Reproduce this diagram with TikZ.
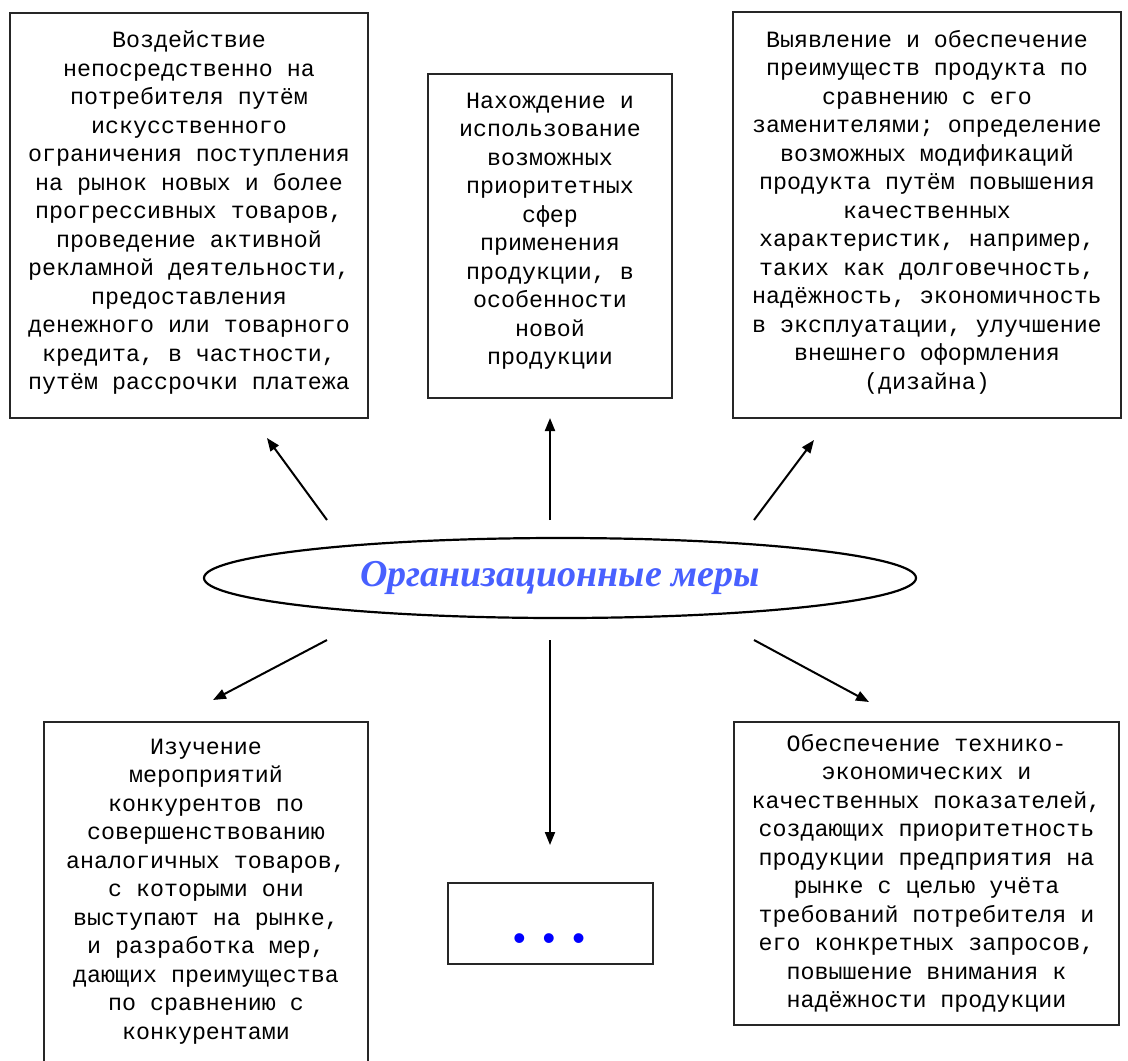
\documentclass[tikz,border=0pt]{standalone}
\usepackage{fontspec}
\setmainfont{Liberation Serif}
\newfontfamily\boxfont{Liberation Mono}
\newfontfamily\titlefont{Liberation Serif}
\newfontfamily\dotfont{Liberation Sans}
\usetikzlibrary{shapes.geometric,arrows.meta}
\definecolor{titleblue}{RGB}{72,96,255}
\definecolor{dotblue}{RGB}{0,0,255}
\tikzset{
  textbox/.style={draw=black!85, line width=1.5pt, inner sep=0pt, align=center,
    font=\boxfont\fontsize{23.3}{28.5}\selectfont},
  conn/.style={draw=black, line width=2pt, -{Triangle[length=13pt,width=10pt]}},
  oval/.style={ellipse, draw=black, line width=2.2pt, inner sep=0pt, fill=white}
}
\begin{document}
\begin{tikzpicture}[x=1pt,y=-1pt]
\useasboundingbox[fill=white] (0,0) rectangle (1128,1061);
\clip (0,0) rectangle (1128,1061);

\node[textbox, minimum width=358, minimum height=405] (b1) at (189,215.5)
 {Воздействие\\непосредственно на\\потребителя путём\\искусственного\\ограничения поступления\\на рынок новых и более\\прогрессивных товаров,\\проведение активной\\рекламной деятельности,\\предоставления\\денежного или товарного\\кредита, в частности,\\путём рассрочки платежа\\[-18pt]\mbox{}};

\node[textbox, minimum width=244, minimum height=324] (b2) at (550,236)
 {Нахождение и\\использование\\возможных\\приоритетных\\сфер\\применения\\продукции, в\\особенности\\новой\\продукции\\[-14pt]\mbox{}};

\node[textbox, minimum width=388, minimum height=406] (b3) at (927,215)
 {Выявление и обеспечение\\преимуществ продукта по\\сравнению с его\\заменителями; определение\\возможных модификаций\\продукта путём повышения\\качественных\\характеристик, например,\\таких как долговечность,\\надёжность, экономичность\\в эксплуатации, улучшение\\внешнего оформления\\(дизайна)\\[-18pt]\mbox{}};

\node[textbox, minimum width=324, minimum height=363] (b4) at (206,903.5)
 {Изучение\\мероприятий\\конкурентов по\\совершенствованию\\аналогичных товаров,\\с которыми они\\выступают на рынке,\\и разработка мер,\\дающих преимущества\\по сравнению с\\конкурентами\\\mbox{}};

\node[textbox, minimum width=385, minimum height=303] (b6) at (926.5,873.5)
 {Обеспечение технико-\\экономических и\\качественных показателей,\\создающих приоритетность\\продукции предприятия на\\рынке с целью учёта\\требований потребителя и\\его конкретных запросов,\\повышение внимания к\\надёжности продукции};

\node[textbox, minimum width=205, minimum height=81] (b5) at (550.5,923.5) {};
\node[font=\dotfont\fontsize{36}{36}\selectfont, text=dotblue, inner sep=0pt]
  (dots) at (549,942) {•\hspace{17pt}•\hspace{17pt}•};

\node[oval, minimum width=712, minimum height=80] (org) at (560,578)
 {\titlefont\bfseries\itshape\fontsize{38}{40}\selectfont\textcolor{titleblue}{Организационные меры}};

\coordinate (s1) at (327,520); \coordinate (e1) at (267,438);
\coordinate (s2) at (550,520); \coordinate (e2) at (550,418);
\coordinate (s3) at (754,520); \coordinate (e3) at (814,440);
\coordinate (s4) at (327,640); \coordinate (e4) at (213,700);
\coordinate (s5) at (550,640); \coordinate (e5) at (550,845);
\coordinate (s6) at (754,640); \coordinate (e6) at (869,702);

\draw[conn] (s1) -- (e1);
\draw[conn] (s2) -- (e2);
\draw[conn] (s3) -- (e3);
\draw[conn] (s4) -- (e4);
\draw[conn] (s5) -- (e5);
\draw[conn] (s6) -- (e6);
\end{tikzpicture}
\end{document}
